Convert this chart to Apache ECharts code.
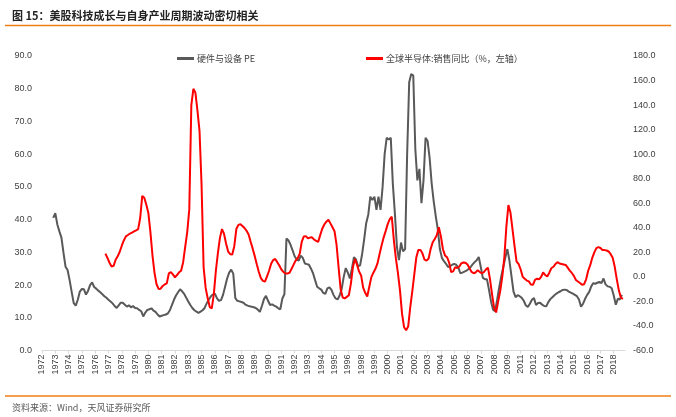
<!DOCTYPE html>
<html>
<head>
<meta charset="UTF-8">
<title>美股科技成长与自身产业周期波动</title>
<script src="https://cdn.jsdelivr.net/npm/echarts@6/dist/echarts.min.js"></script>
</head>
<body style="margin:0">
<div id="main" style="width:676px;height:417px"></div>
<script>
// monthly axis, 1972-01 onwards
var startYear = 1972;
var monthCount = 571;

// 硬件与设备 PE, one value every 2 months from 1972-12
var peStart = 11;
var peStep = 2;
var pe = [
    40.5, 42.0, 38.5, 36.4, 34.5, 29.9, 25.6, 24.6, 21.5, 17.9,
    14.5, 13.7, 15.5, 18.0, 18.8, 18.7, 17.1, 18.2, 20.0, 20.8,
    19.4, 18.9, 18.3, 17.8, 17.2, 16.6, 16.1, 15.5, 15.0, 14.4,
    13.6, 13.0, 13.8, 14.6, 14.6, 14.0, 13.4, 13.8, 13.2, 13.6,
    13.0, 12.9, 12.4, 12.0, 10.4, 11.6, 12.4, 12.6, 12.9, 12.2,
    11.8, 11.0, 10.4, 10.6, 10.8, 11.0, 11.3, 12.3, 13.9, 15.5,
    16.8, 17.8, 18.7, 18.1, 17.3, 16.1, 15.0, 13.9, 13.0, 12.3,
    11.9, 11.5, 11.9, 12.3, 13.0, 14.4, 15.5, 16.5, 17.1, 17.4,
    16.0, 15.2, 15.4, 17.0, 19.5, 22.0, 23.8, 24.7, 23.5, 16.0,
    15.2, 15.0, 14.8, 14.6, 14.0, 13.7, 13.5, 13.4, 13.2, 13.0,
    12.5, 11.8, 13.6, 15.7, 16.7, 15.2, 13.9, 14.1, 13.7, 13.4,
    12.9, 12.6, 15.9, 17.2, 34.2, 33.6, 32.3, 30.6, 28.8, 27.8,
    27.5, 29.0, 28.3, 26.6, 26.4, 26.2, 25.0, 23.6, 21.5, 19.5,
    19.0, 18.6, 17.6, 17.3, 19.0, 19.3, 18.5, 17.0, 15.9, 15.6,
    16.8, 18.8, 22.5, 25.2, 23.8, 22.0, 25.0, 28.5, 27.8, 25.7,
    26.0, 29.5, 34.0, 39.0, 41.5, 47.0, 46.0, 47.0, 43.0, 47.0,
    43.0, 50.0, 60.0, 65.0, 64.5, 65.0, 51.0, 42.0, 31.7, 27.6,
    33.0, 30.3, 31.0, 60.0, 82.0, 84.5, 84.0, 61.5, 52.0, 55.5,
    45.0, 52.0, 65.0, 64.0, 58.8, 51.0, 45.5, 41.0, 37.0, 31.0,
    28.3, 27.3, 26.5, 25.5, 25.8, 26.2, 26.5, 26.2, 25.4, 23.6,
    23.8, 24.1, 24.4, 24.9, 25.5, 26.3, 27.0, 27.6, 28.6, 25.5,
    22.2, 21.8, 21.8, 18.6, 15.0, 12.5, 12.0, 15.5, 19.3, 22.6,
    25.5, 28.4, 31.0, 27.5, 22.7, 18.0, 16.3, 16.9, 16.6, 16.1,
    15.2, 13.8, 13.3, 14.3, 15.5, 16.0, 13.9, 14.5, 14.6, 14.0,
    13.6, 13.5, 14.8, 15.7, 16.3, 16.9, 17.4, 17.8, 18.1, 18.5,
    18.6, 18.5, 18.0, 17.7, 17.4, 17.0, 16.6, 15.6, 13.4, 14.3,
    15.8, 17.0, 17.9, 19.6, 20.6, 20.4, 20.7, 21.0, 20.6, 22.0,
    20.2, 19.6, 19.5, 19.0, 16.8, 14.0, 15.8, 15.6, 17.0
];

// 全球半导体销售同比 (%), one value every 2 months from 1977-03
var semiStart = 62;
var semiStep = 2;
var semi = [
    19.0, 15.4, 11.5, 8.5, 9.0, 14.0, 16.8, 20.5, 25.4, 29.7,
    33.0, 34.1, 35.3, 36.0, 37.0, 37.9, 38.9, 48.0, 66.0, 64.5,
    58.8, 52.0, 36.5, 17.6, 3.3, -6.0, -9.8, -9.6, -7.4, -6.2,
    -5.3, 2.8, 3.8, 2.0, -0.4, 1.5, 3.7, 5.0, 12.0, 24.5,
    36.5, 55.0, 140.0, 153.3, 150.0, 135.5, 119.0, 75.0, 8.0, -9.0,
    -17.5, -24.6, -25.6, -14.0, 5.0, 19.5, 32.0, 39.0, 35.0, 27.0,
    20.6, 18.5, 18.3, 25.0, 39.0, 42.4, 42.9, 41.5, 39.8, 37.5,
    34.6, 28.7, 23.0, 16.9, 10.3, 4.0, -1.0, -3.2, -3.9, 0.4,
    5.0, 10.7, 13.7, 14.6, 12.0, 9.2, 6.0, 4.0, 2.8, 2.8,
    3.3, 6.6, 10.0, 13.3, 15.2, 19.0, 28.8, 33.0, 33.2, 31.4,
    32.0, 32.2, 30.5, 29.3, 28.5, 34.0, 39.2, 42.7, 45.0, 46.5,
    43.6, 40.5, 37.2, 26.0, 7.5, -10.0, -16.8, -17.5, -16.3, -15.0,
    -5.5, 8.0, 14.5, 10.0, 4.3, 1.2, -8.8, -13.0, -16.0, -8.0,
    -0.2, 3.4, 6.6, 11.0, 18.5, 25.6, 32.0, 37.3, 43.0, 47.0,
    49.0, 30.0, 15.0, 3.0, -11.0, -30.0, -41.0, -43.5, -40.5, -25.0,
    -12.0, 2.0, 16.0, 22.0, 22.0, 19.0, 14.0, 13.2, 15.0, 22.8,
    28.2, 30.8, 34.0, 40.5, 33.0, 22.5, 17.5, 16.0, 11.8, 4.0,
    4.5, 8.0, 7.2, 8.5, 11.0, 11.8, 11.5, 10.0, 7.0, 4.0,
    3.0, 3.6, 5.5, 4.0, 2.9, 3.8, 6.0, 7.5, -1.8, -14.0,
    -25.0, -29.0, -20.0, -11.5, 0.0, 15.5, 41.0, 58.5, 52.5, 39.0,
    25.0, 12.5, 10.5, 6.0, 0.0, -1.6, -3.0, -3.7, -6.2, -6.5,
    -2.4, -1.5, -2.0, 0.0, 3.6, 1.5, 0.3, 3.4, 7.0, 8.2,
    10.5, 12.0, 10.9, 10.5, 10.1, 9.7, 7.5, 5.1, 3.2, 0.8,
    -2.5, -3.8, -5.0, -6.4, -6.0, -2.0, 5.0, 9.5, 15.5, 20.0,
    23.4, 24.2, 23.5, 21.8, 21.8, 21.5, 20.7, 18.5, 15.5, 8.0,
    -2.0, -11.0, -17.0, -18.0
];

var months = [];
for (var m = 0; m < monthCount; m++) {
    var yy = startYear + Math.floor(m / 12);
    var mm = m % 12 + 1;
    months.push(yy + '-' + (mm < 10 ? '0' + mm : mm));
}

function onAxis(values, start, step) {
    var out = [];
    for (var k = 0; k < monthCount; k++) out.push(null);
    values.forEach(function (v, i) { out[start + i * step] = v; });
    return out;
}

var chart = echarts.init(document.getElementById('main'), null, { renderer: 'canvas' });

var labelFont = { fontSize: 9, color: '#404040', fontFamily: 'Liberation Sans' };

var option = {
    animation: false,
    backgroundColor: '#fff',
    title: {
        text: '图 15：美股科技成长与自身产业周期波动密切相关',
        left: 12, top: 10, padding: 0,
        textStyle: { fontSize: 11, fontWeight: 'bold', color: '#222', fontFamily: 'Noto Sans CJK SC' }
    },
    graphic: [
        { type: 'line', shape: { x1: 5, y1: 25.5, x2: 671, y2: 25.5 }, style: { stroke: '#F07F16', lineWidth: 1.3 } },
        { type: 'line', shape: { x1: 5, y1: 396, x2: 671, y2: 396 }, style: { stroke: '#F07F16', lineWidth: 1.3 } },
        { type: 'text', left: 12, top: 403, style: { text: '资料来源：Wind，天风证券研究所', fontSize: 9, fill: '#595959', fontFamily: 'Noto Sans CJK SC' } }
    ],
    legend: [
        {
            data: ['硬件与设备 PE'], left: 177, top: 54, padding: 0,
            icon: 'rect', itemWidth: 17, itemHeight: 3, itemGap: 0,
            textStyle: { fontSize: 9, color: '#404040', fontFamily: 'Noto Sans CJK SC', padding: [0, 0, 0, -2] }
        },
        {
            data: ['全球半导体:销售同比（%，左轴）'], left: 366, top: 54, padding: 0,
            icon: 'rect', itemWidth: 17, itemHeight: 3, itemGap: 0,
            textStyle: { fontSize: 9, color: '#404040', fontFamily: 'Noto Sans CJK SC', padding: [0, 0, 0, -2] }
        }
    ],
    grid: { left: 42, right: 51, top: 56, bottom: 66.5, containLabel: false },
    xAxis: {
        type: 'category',
        data: months,
        boundaryGap: false,
        axisLine: { lineStyle: { color: '#d9d9d9' } },
        axisTick: { interval: 12, length: 3, lineStyle: { color: '#d9d9d9' } },
        axisLabel: Object.assign({
            interval: 12, rotate: 90, margin: 4,
            formatter: function (v) { return v.slice(0, 4); }
        }, labelFont),
        splitLine: { show: false }
    },
    yAxis: [
        {
            type: 'value', min: 0, max: 90, interval: 10,
            axisLine: { show: false }, axisTick: { show: false }, splitLine: { show: false },
            axisLabel: Object.assign({ margin: 10, formatter: function (v) { return v.toFixed(1); } }, labelFont)
        },
        {
            type: 'value', min: -60, max: 180, interval: 20,
            axisLine: { show: false }, axisTick: { show: false }, splitLine: { show: false },
            axisLabel: Object.assign({ margin: 8, formatter: function (v) { return v.toFixed(1); } }, labelFont)
        }
    ],
    series: [
        {
            name: '硬件与设备 PE', type: 'line', yAxisIndex: 0,
            data: onAxis(pe, peStart, peStep), connectNulls: true,
            showSymbol: false, symbol: 'none',
            lineStyle: { color: '#595959', width: 2 }, itemStyle: { color: '#595959' }
        },
        {
            name: '全球半导体:销售同比（%，左轴）', type: 'line', yAxisIndex: 1,
            data: onAxis(semi, semiStart, semiStep), connectNulls: true,
            showSymbol: false, symbol: 'none',
            lineStyle: { color: '#FF0000', width: 2 }, itemStyle: { color: '#FF0000' }
        }
    ]
};

chart.setOption(option);
</script>
</body>
</html>
